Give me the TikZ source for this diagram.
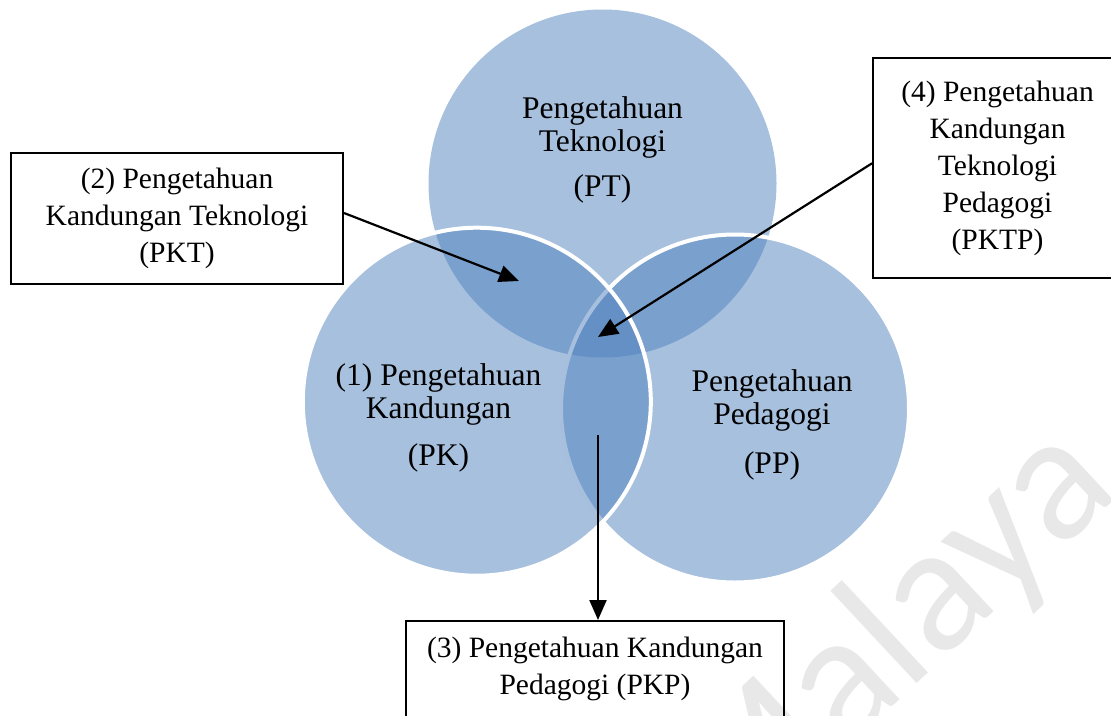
\documentclass[tikz,border=0pt]{standalone}
\usepackage{fontspec}
\setmainfont{Liberation Serif}
\newfontfamily\wmfont{Carlito}
\usetikzlibrary{arrows.meta}
\definecolor{venn}{HTML}{4F81BD}
\definecolor{wmgray}{RGB}{232,232,232}
\begin{document}
\begin{tikzpicture}[x=1pt,y=-1pt,
  circ/.style={circle, minimum size=348pt, inner sep=0pt, fill=venn, fill opacity=0.5, draw=white, line width=4pt},
  clabel/.style={font=\fontsize{31.5}{33.5}\selectfont, align=center, inner sep=0pt, anchor=base},
  infobox/.style={draw=black, line width=2pt, font=\fontsize{29.5}{37}\selectfont, align=center, inner sep=0pt},
  conn/.style={-{Triangle[length=20pt,width=17pt]}, line width=2.2pt}
]
\useasboundingbox (0,0) rectangle (1111,715);
% watermark
\node[font=\wmfont\fontsize{182}{182}\selectfont, text=wmgray, rotate=43, inner sep=0pt] (wm) at (893,640) {Malaya};
% circles
\node[circ, draw=none] (ct) at (602.5,183.5) {};
\node[circ] (cr) at (735,408.5) {};
\node[circ] (cl) at (476.8,401.7) {};
% circle labels (anchor = baseline of last line)
\node[clabel] (lt) at (602.5,196.7) {Pengetahuan\\Teknologi\\[11.5pt](PT)};
\node[clabel] (ll) at (438.5,465) {(1) Pengetahuan\\Kandungan\\[13pt](PK)};
\node[clabel] (lr) at (772,473) {Pengetahuan\\Pedagogi\\[15pt](PP)};
% boxes
\node[infobox, minimum width=332pt, minimum height=131pt] (box2) at (177,218) {(2) Pengetahuan\\Kandungan Teknologi\\(PKT)};
\node[infobox, minimum width=249pt, minimum height=220pt] (box4) at (997.5,168) {(4) Pengetahuan\\Kandungan\\Teknologi\\Pedagogi\\(PKTP)};
\node[infobox, minimum width=378pt, minimum height=96pt] (box3) at (595,669) {(3) Pengetahuan Kandungan\\Pedagogi (PKP)};
% connectors
\coordinate (tip2) at (519,281);
\coordinate (tip4) at (598,337);
\coordinate (src3) at (598,435);
\draw[conn] ([yshift=5pt]box2.east) -- (tip2);
\draw[conn] ([yshift=4.7pt]box4.west) -- (tip4);
\draw[conn] (src3) -- (src3 |- box3.north);
\end{tikzpicture}
\end{document}
